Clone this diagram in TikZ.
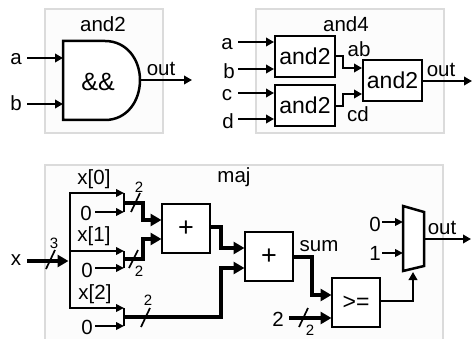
\documentclass[tikz,border=0pt]{standalone}
\usepackage{fontspec}
\setmainfont{Liberation Sans}
\usetikzlibrary{arrows.meta,calc}
\tikzset{
  frame/.style={draw=black!14,line width=2pt,fill=black!1},
  lbl/.style={inner sep=0pt,font=\fontsize{20.5}{20.5}\selectfont},
  small/.style={inner sep=0pt,font=\fontsize{15}{15}\selectfont},
  blk/.style={draw,line width=2.5pt,fill=white,inner sep=0pt,font=\fontsize{23}{23}\selectfont},
  wire/.style={line width=2.5pt,-{Triangle[length=8pt,width=8.5pt]}},
  thin wire/.style={line width=2pt,-{Triangle[length=8pt,width=7.5pt]}},
  plain/.style={line width=2.5pt},
  bus/.style={line width=3.8pt,-{Triangle[length=11pt,width=12pt]},shorten >=-0.5pt},
  busplain/.style={line width=2.8pt},
  slash/.style={line width=1.7pt},
}
\newcommand{\bx}[6]{\node[blk,minimum width=#4pt-#3pt,minimum height=#6pt-#5pt] (#1) at ({(#3+#4)/2},{(#5+#6)/2}) {#2};}
\begin{document}
\begin{tikzpicture}[x=1pt,y=-1pt]
\useasboundingbox (0,0) rectangle (473,339);
\fill[white] (0,0) rectangle (473,339);
% frames
\draw[frame] (45,9) rectangle (163,133);
\draw[frame] (256,9) rectangle (444,133);
\draw[frame] (45,342) -- (45,165) -- (443,165) -- (443,342);
\node[lbl] (t1) at (103,24) {and2};
\node[lbl] (t2) at (346,24) {and4};
\node[lbl] (t3) at (234,177) {maj};

% and2
\node[lbl] (a1) at (16,59) {a};
\node[lbl] (b1) at (16,103) {b};
\draw[line width=2.5pt,fill=white] (63,41) -- (105,41) .. controls (127,41) and (140,60) .. (140,80) .. controls (140,101) and (127,120) .. (105,120) -- (63,120) -- cycle;
\coordinate (g) at (140,80);
\coordinate (ga) at (63,58);
\coordinate (gb) at (63,104);
\coordinate (go) at (192,80);
\node[font=\fontsize{25}{25}\selectfont,inner sep=0pt] (gl) at (98,82) {\&\&};
\node[lbl] (o1) at (161,69) {out};
\coordinate (a1s) at (27,58);
\coordinate (b1s) at (27,104);
\draw[wire] (a1s) -- (ga);
\draw[wire] (b1s) -- (gb);
\draw[wire] (g) -- (go);

% and4
\bx{u1}{and2}{275}{335}{36}{77}
\bx{u2}{and2}{275}{335}{85}{126}
\bx{u3}{and2}{363}{422}{60}{101}
\foreach \n/\t/\y/\lx in {a/a/42/227,b/b/69/229,c/c/93/227,d/d/119/228}{
  \node[lbl] (\n4) at (\lx,\y+2) {\t};
  \coordinate (\n4s) at (238,\y);
  \coordinate (\n4e) at (274,\y);
  \draw[wire] (\n4s) -- (\n4e);
}
\node[lbl] (ab) at (359,49) {ab};
\node[lbl] (cd) at (358,114) {cd};
\node[lbl] (o4) at (441,70) {out};
\coordinate (ab1) at (335,56);
\coordinate (ab2) at (343,68);
\coordinate (ab3) at (362,68);
\coordinate (cd1) at (335,106);
\coordinate (cd2) at (343,94);
\coordinate (cd3) at (362,94);
\coordinate (o4s) at (422,81);
\coordinate (o4e) at (472,81);
\draw[wire] (ab1) -| (ab2) -- (ab3);
\draw[wire] (cd1) -| (cd2) -- (cd3);
\draw[wire] (o4s) -- (o4e);

% maj
\bx{add1}{\fontsize{27}{27}\selectfont +}{162}{210}{204}{253}
\bx{add2}{\fontsize{27}{27}\selectfont +}{245}{293}{232}{281}
\bx{cmp}{>=}{332}{380}{278}{327}
\draw[line width=2.5pt,fill=white] (403,206) coordinate (m1) -- (424,212) -- (424,266) -- (403,271) -- cycle;
\node[lbl] (x) at (16,260) {x};
\node[lbl] (x0) at (94,179) {x[0]};
\node[lbl] (x1) at (94,236) {x[1]};
\node[lbl] (x2) at (95,294) {x[2]};
\node[lbl] (z0) at (86,213) {0};
\node[lbl] (z1) at (87,270) {0};
\node[lbl] (z2) at (87,327) {0};
\node[lbl] (sum) at (319,246) {sum};
\node[lbl] (o5) at (442,228) {out};
\node[lbl] (mz) at (375,224) {0};
\node[lbl] (mo) at (375,253) {1};
\node[lbl] (two) at (278,319) {2};
% bus
\coordinate (xs) at (27,261);
\coordinate (xe) at (68,261);
\coordinate (bt) at (70,193);
\coordinate (bb) at (70,308);
\draw[bus] (xs) -- (xe);
\draw[busplain] (bt) -- (bb);
\foreach \n/\y in {p/193,q/251,r/308}{
  \coordinate (\n s) at (69,\y);
  \coordinate (\n e) at (124,\y);
  \draw[thin wire] (\n s) -- (\n e);
}
\foreach \n/\y in {u/212,v/268,w/326}{
  \coordinate (\n s) at (95,\y);
  \coordinate (\n e) at (124,\y);
  \draw[thin wire] (\n s) -- (\n e);
}
% merge bars
\draw[plain] (pe) -- (ue);
\draw[plain] (qe) -- (ve);
\draw[plain] (re) -- (we);
% buses
\coordinate (m1o) at (124,203);
\coordinate (m2o) at (124,259);
\coordinate (m3o) at (124,317);
\coordinate (b1m) at (143,220);
\coordinate (b2m) at (143,239);
\coordinate (b1e) at (161,220);
\coordinate (b2e) at (161,239);
\draw[bus] (m1o) -| (b1m) -- (b1e);
\draw[bus] (m2o) -| (b2m) -- (b2e);
\coordinate (s1) at (210,227);
\coordinate (s2) at (221,248);
\coordinate (s3) at (244,248);
\draw[bus] (s1) -| (s2) -- (s3);
\coordinate (t2m) at (221,268);
\coordinate (t2e) at (244,268);
\draw[bus] (m3o) -| (t2m) -- (t2e);
\coordinate (c1) at (293,257);
\coordinate (c2) at (312,295);
\coordinate (c3) at (331,295);
\draw[bus] (c1) -| (c2) -- (c3);
\coordinate (d1) at (289,318);
\coordinate (d2) at (331,318);
\draw[bus] (d1) -- (d2);
\coordinate (e1) at (380,301);
\coordinate (e2) at (413,272);
\draw[wire] (e1) -| (e2);
\foreach \n/\y in {f/222,h/253}{
  \coordinate (\n s) at (382,\y);
  \coordinate (\n e) at (403,\y);
  \draw[thin wire] (\n s) -- (\n e);
}
\coordinate (i1) at (424,239);
\coordinate (i2) at (471,239);
\draw[wire] (i1) -- (i2);
% slashes
\draw[slash] (46,269) coordinate (sa) -- (55,250) coordinate (sb);
\draw[slash] (131,212) coordinate (sc) -- (140,193) coordinate (sd);
\draw[slash] (129,268) coordinate (se) -- (138,250) coordinate (sf);
\draw[slash] (141,327) coordinate (sg) -- (150,308) coordinate (sh);
\draw[slash] (299,327) coordinate (si) -- (308,308) coordinate (sj);
\node[small] (n3) at (54,243) {3};
\node[small] (n2a) at (139,187) {2};
\node[small] (n2b) at (139,271) {2};
\node[small] (n2c) at (148,300) {2};
\node[small] (n2d) at (310,330) {2};
\end{tikzpicture}
\end{document}
